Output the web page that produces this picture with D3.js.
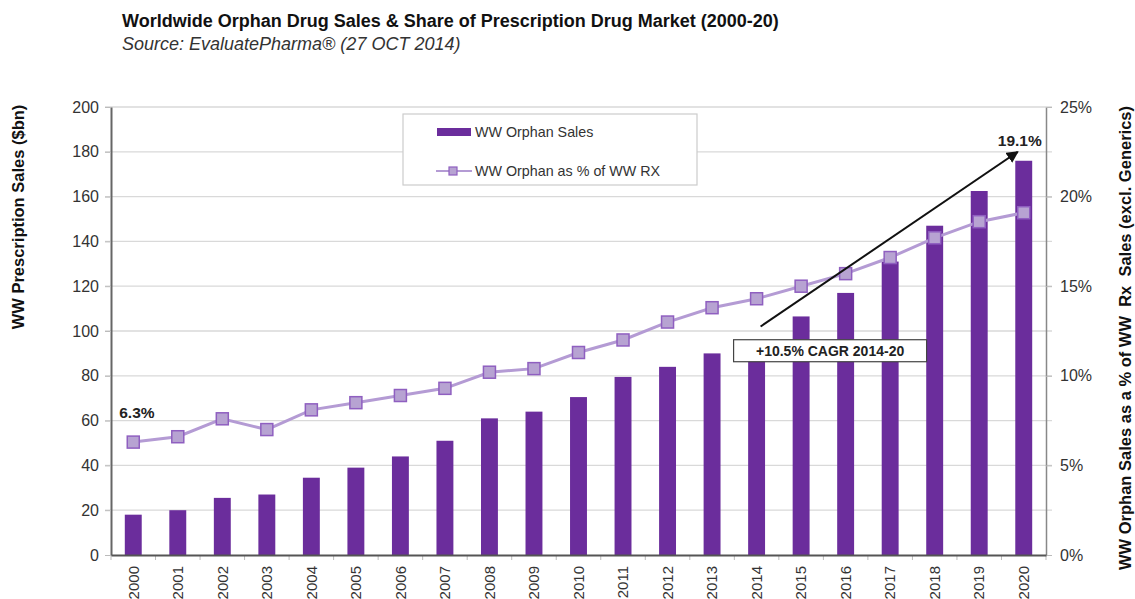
<!DOCTYPE html>
<html>
<head>
<meta charset="utf-8">
<script src="https://cdn.jsdelivr.net/npm/d3@7"></script>
<style>
  body { margin: 0; background: #fff; }
  text { font-family: "Liberation Sans", Arial, sans-serif; }
</style>
</head>
<body>
<div id="chart"></div>
<script>
// data
var years = ["2000","2001","2002","2003","2004","2005","2006","2007","2008","2009","2010",
             "2011","2012","2013","2014","2015","2016","2017","2018","2019","2020"];
var orphanSales = [18, 20, 25.5, 27, 34.5, 39, 44, 51, 61, 64, 70.5,
                   79.5, 84, 90, 96, 106.5, 117, 131, 147, 162.5, 176];
var orphanShare = [6.3, 6.6, 7.6, 7.0, 8.1, 8.5, 8.9, 9.3, 10.2, 10.4, 11.3,
                   12.0, 13.0, 13.8, 14.3, 15.0, 15.7, 16.6, 17.7, 18.6, 19.1];
var leftTicks = [0, 20, 40, 60, 80, 100, 120, 140, 160, 180, 200];
var rightTicks = [0, 5, 10, 15, 20, 25];

var width = 1135, height = 599;
var margin = {top: 107, right: 89, bottom: 44, left: 111};
var w = width - margin.left - margin.right,
    h = height - margin.top - margin.bottom;

var svg = d3.select("#chart").append("svg")
    .attr("width", width)
    .attr("height", height);

// title
svg.append("text").attr("x", 122).attr("y", 27)
  .style("font-size", "18px").style("font-weight", "bold").attr("fill", "#111")
  .text("Worldwide Orphan Drug Sales & Share of Prescription Drug Market (2000-20)");
svg.append("text").attr("x", 122).attr("y", 50)
  .style("font-size", "18px").style("font-style", "italic").attr("fill", "#333")
  .text("Source: EvaluatePharma® (27 OCT 2014)");

var g = svg.append("g")
  .attr("transform", "translate(" + margin.left + "," + margin.top + ")");

var x = d3.scaleBand().domain(years).range([0, w]).paddingInner(0.62).paddingOuter(0.31);
var xc = function(d){ return x(d) + x.bandwidth() / 2 };
var y = d3.scaleLinear().domain([0, 200]).range([h, 0]);
var y2 = d3.scaleLinear().domain([0, 25]).range([h, 0]);

// gridlines
g.append("g").selectAll("line")
  .data(leftTicks.slice(1))
  .enter().append("line")
    .attr("x1", -6).attr("x2", w + 6)
    .attr("y1", function(d){ return y(d) }).attr("y2", function(d){ return y(d) })
    .attr("stroke", "#d9d9d9").attr("stroke-width", 1.3);

// small ticks between the years
var step = x.step();
g.append("g").selectAll("line")
  .data(years.concat(["end"]))
  .enter().append("line")
    .attr("x1", function(d, i){ return i * step }).attr("x2", function(d, i){ return i * step })
    .attr("y1", h).attr("y2", h + 5)
    .attr("stroke", "#bbb");

// left axis
var yAxis = g.append("g")
  .call(d3.axisLeft(y).tickValues(leftTicks).tickSize(6).tickSizeOuter(0).tickPadding(6));
yAxis.select(".domain").attr("stroke", "#666").attr("stroke-width", 2);
yAxis.selectAll(".tick line").attr("stroke", "#bbb");
yAxis.selectAll("text").style("font-size", "16px").attr("fill", "#333");

// right axis
var yAxis2 = g.append("g").attr("transform", "translate(" + w + ",0)")
  .call(d3.axisRight(y2).tickValues(rightTicks).tickSize(6).tickSizeOuter(0).tickPadding(8)
    .tickFormat(function(d){ return d + "%" }));
yAxis2.select(".domain").attr("stroke", "#888").attr("stroke-width", 1.5);
yAxis2.selectAll(".tick line").attr("stroke", "#bbb");
yAxis2.selectAll("text").style("font-size", "16px").attr("fill", "#333");

// bars
g.append("g").selectAll("rect")
  .data(years)
  .enter().append("rect")
    .attr("x", function(d){ return x(d) })
    .attr("width", x.bandwidth())
    .attr("y", function(d, i){ return y(orphanSales[i]) })
    .attr("height", function(d, i){ return h - y(orphanSales[i]) })
    .attr("fill", "#6b2d9c");

// bottom axis
var xAxis = g.append("g").attr("transform", "translate(0," + h + ")")
  .call(d3.axisBottom(x).tickSize(0).tickSizeOuter(0).tickPadding(8));
xAxis.select(".domain").attr("stroke", "#555").attr("stroke-width", 2);
xAxis.selectAll("text")
  .style("font-size", "15px").attr("fill", "#333")
  .attr("transform", "rotate(-90)")
  .attr("text-anchor", "end")
  .attr("x", -11).attr("y", 0).attr("dy", "0.35em");

// share line
var line = d3.line()
  .x(function(d, i){ return xc(years[i]) })
  .y(function(d){ return y2(d) });
g.append("path").datum(orphanShare)
  .attr("d", line).attr("fill", "none")
  .attr("stroke", "#b49bd4").attr("stroke-width", 3);
g.append("g").selectAll("rect")
  .data(orphanShare)
  .enter().append("rect")
    .attr("x", function(d, i){ return xc(years[i]) - 6 })
    .attr("y", function(d){ return y2(d) - 6 })
    .attr("width", 12).attr("height", 12)
    .attr("fill", "#b7a3d2").attr("stroke", "#8f5fc0").attr("stroke-width", 1.5);

// start / end labels
g.append("text").attr("x", xc("2000") - 14).attr("y", y2(orphanShare[0]) - 24)
  .style("font-size", "15.5px").style("font-weight", "bold").attr("fill", "#222")
  .text(orphanShare[0] + "%");
g.append("text").attr("x", xc("2020") + 18).attr("y", y2(orphanShare[20]) - 67)
  .attr("text-anchor", "end")
  .style("font-size", "15.5px").style("font-weight", "bold").attr("fill", "#222")
  .text(orphanShare[20] + "%");

// CAGR arrow
svg.append("defs").append("marker")
  .attr("id", "arrow").attr("viewBox", "0 0 10 10")
  .attr("refX", 9).attr("refY", 5)
  .attr("markerWidth", 6).attr("markerHeight", 6)
  .attr("orient", "auto")
  .append("path").attr("d", "M0,0L10,5L0,10z").attr("fill", "#111");
g.append("line")
  .attr("x1", xc("2014") + 4).attr("y1", y(102))
  .attr("x2", xc("2020") - 6).attr("y2", y(180))
  .attr("stroke", "#111").attr("stroke-width", 2)
  .attr("marker-end", "url(#arrow)");

// CAGR box
var cagr = g.append("g").attr("transform", "translate(" + (xc("2014") - 23) + "," + (y(97) + 2) + ")");
cagr.append("rect").attr("width", 193).attr("height", 22)
  .attr("fill", "#fff").attr("stroke", "#444").attr("stroke-width", 1.2);
cagr.append("text").attr("x", 96.5).attr("y", 16.5)
  .attr("text-anchor", "middle")
  .style("font-size", "14px").style("font-weight", "bold").attr("fill", "#222")
  .text("+10.5% CAGR 2014-20");

// legend
var lg = svg.append("g").attr("transform", "translate(403,114)");
lg.append("rect").attr("width", 294).attr("height", 71)
  .attr("fill", "#fff").attr("stroke", "#ccc").attr("stroke-width", 1.2);
lg.append("rect").attr("x", 34).attr("y", 14).attr("width", 34).attr("height", 8)
  .attr("fill", "#6b2d9c");
lg.append("text").attr("x", 72).attr("y", 23)
  .style("font-size", "14.3px").attr("fill", "#333").text("WW Orphan Sales");
lg.append("line").attr("x1", 33).attr("x2", 69).attr("y1", 57).attr("y2", 57)
  .attr("stroke", "#b49bd4").attr("stroke-width", 2);
lg.append("rect").attr("x", 46).attr("y", 53).attr("width", 8).attr("height", 8)
  .attr("fill", "#b7a3d2").attr("stroke", "#8f5fc0").attr("stroke-width", 1.2);
lg.append("text").attr("x", 72).attr("y", 62)
  .style("font-size", "14.3px").attr("fill", "#333").text("WW Orphan as % of WW RX");

// axis titles
svg.append("text")
  .attr("transform", "translate(24,217) rotate(-90)")
  .attr("text-anchor", "middle")
  .style("font-size", "16.5px").style("font-weight", "bold").attr("fill", "#111")
  .text("WW Prescription Sales ($bn)");
svg.append("text")
  .attr("transform", "translate(1131,338) rotate(-90)")
  .attr("text-anchor", "middle")
  .style("font-size", "16.5px").style("font-weight", "bold").attr("fill", "#111")
  .attr("xml:space", "preserve")
  .text("WW Orphan Sales as a % of WW  Rx  Sales (excl. Generics)");
</script>
</body>
</html>
